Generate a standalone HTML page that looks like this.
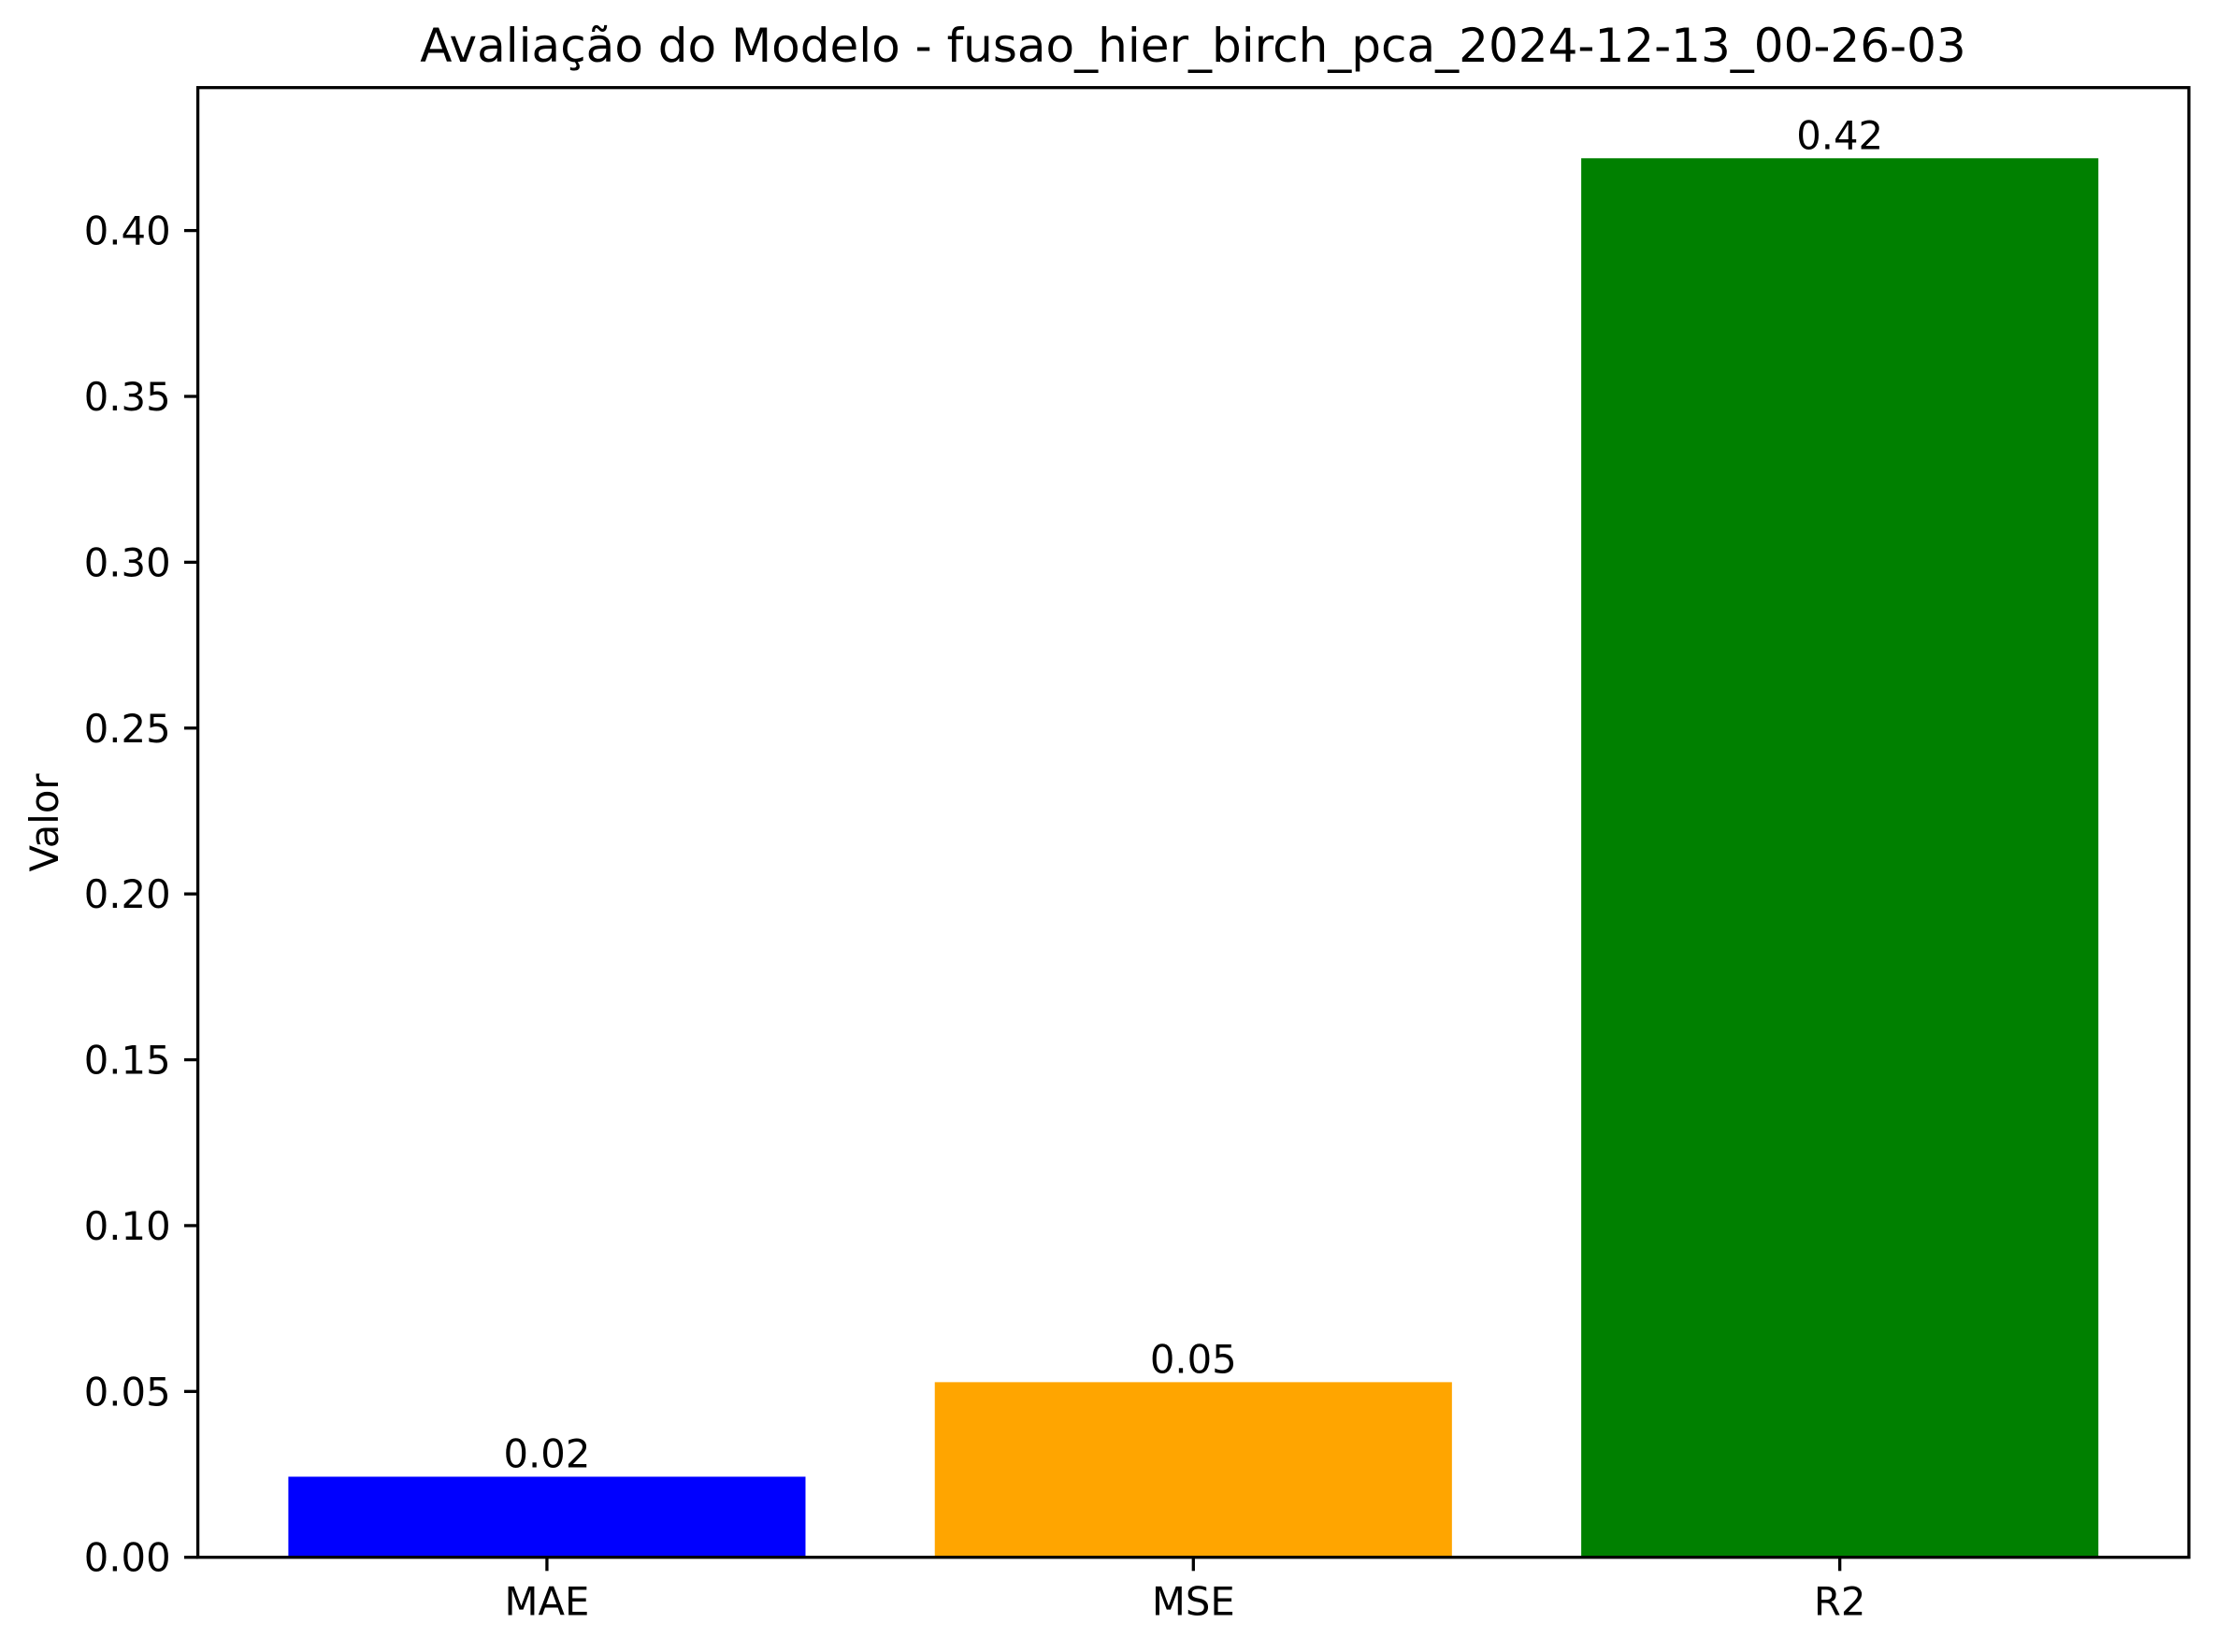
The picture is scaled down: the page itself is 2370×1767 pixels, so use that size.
<!DOCTYPE html>
<html><head><meta charset="utf-8"><style>
html,body{margin:0;padding:0;background:#fff;}
svg{display:block;font-family:"DejaVu Sans","Liberation Sans",sans-serif;}
</style></head><body>
<svg id="chart" width="2370" height="1767" viewBox="0 0 2370 1767">
<rect width="2370" height="1767" fill="#fff"/>
<text x="1276" y="66" font-size="50" text-anchor="middle">Avaliação do Modelo - fusao_hier_birch_pca_2024-12-13_00-26-03</text>
<text transform="translate(62,880) rotate(-90)" font-size="41.7" text-anchor="middle">Valor</text>
<g id="bars"></g>
<g id="yticks"></g>
<g id="xticks"></g>
<rect x="211.6" y="93.7" width="2129.4" height="1572" fill="none" stroke="#000" stroke-width="3.3"/>
</svg>
<script>
const categories = ["MAE", "MSE", "R2"];
const values = [0.0243, 0.0528, 0.4218];
const valueLabels = ["0.02", "0.05", "0.42"];
const colors = ["#0000ff", "#ffa500", "#008000"];
const yTicks = [0, 0.05, 0.10, 0.15, 0.20, 0.25, 0.30, 0.35, 0.40];
const yTickLabels = ["0.00","0.05","0.10","0.15","0.20","0.25","0.30","0.35","0.40"];

const L=211.6, R=2341, T=93.7, B=1665.7;
const xMin=-0.54, xMax=2.54, yMin=0, yMax=0.4431;
const xs=v=>L+(v-xMin)/(xMax-xMin)*(R-L);
const ys=v=>B-(v-yMin)/(yMax-yMin)*(B-T);
const NS="http://www.w3.org/2000/svg";
function mk(tag,attrs,parent,text){const e=document.createElementNS(NS,tag);for(const k in attrs)e.setAttribute(k,attrs[k]);if(text!==undefined)e.textContent=text;parent.appendChild(e);return e;}
const gb=document.getElementById('bars'), gy=document.getElementById('yticks'), gx=document.getElementById('xticks');
categories.forEach((c,i)=>{
  const x0=xs(i-0.4), x1=xs(i+0.4), y=ys(values[i]);
  const r=mk('rect',{x:x0,y:y,width:x1-x0,height:B-y,fill:colors[i]},gb);
  
  
  const t=mk('text',{x:xs(i),y:y-10,'font-size':41.7,'text-anchor':'middle'},gb,valueLabels[i]);
  
  
  const tk=mk('line',{x1:xs(i),x2:xs(i),y1:B,y2:B+14.6,stroke:'#000','stroke-width':3.3},gx);
  
  
  const tl=mk('text',{x:xs(i),y:B+62,'font-size':41.7,'text-anchor':'middle'},gx,c);
  
  
});
yTicks.forEach((v,i)=>{
  const y=ys(v);
  const tk=mk('line',{x1:L-14.6,x2:L,y1:y,y2:y,stroke:'#000','stroke-width':3.3},gy);
  
  
  const tl=mk('text',{x:L-29,y:y+15,'font-size':41.7,'text-anchor':'end'},gy,yTickLabels[i]);
  
  
});
</script>
</body></html>
